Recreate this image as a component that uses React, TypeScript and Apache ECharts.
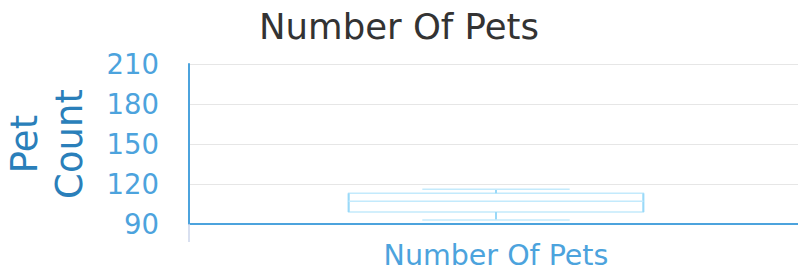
import React, { useEffect, useRef } from "react";
import * as echarts from "echarts";

const categories = ["Number Of Pets"];
// [low, q1, median, q3, high]
const boxValues = [[93, 99, 107, 113, 116]];
const yTicks = [90, 120, 150, 180, 210];

const FONT = "DejaVu Sans";

export default function App() {
  const ref = useRef<HTMLDivElement>(null);
  useEffect(() => {
    if (!ref.current) return;
    const chart = echarts.init(ref.current, null, { renderer: "svg" });
    const data = boxValues.map((v, i) => [i, ...v]);
    chart.setOption({
      animation: false,
      backgroundColor: "#ffffff",
      title: {
        text: "Number Of Pets",
        left: "center",
        top: 3,
        textStyle: { fontFamily: FONT, fontSize: 35.5, fontWeight: "normal", color: "#333333" },
      },
      grid: { left: 189, right: -5, top: 64, bottom: 47, containLabel: false, outerBoundsMode: "none" },
      xAxis: {
        type: "category",
        data: categories,
        boundaryGap: true,
        axisLine: { show: true, lineStyle: { color: "#4ca3dd", width: 2 } },
        axisTick: { show: true, length: 18, lineStyle: { color: "#ccd6eb", width: 1.5 } },
        axisLabel: { fontFamily: FONT, fontSize: 28.5, color: "#4ca3dd", margin: 17 },
        splitLine: { show: false },
      },
      yAxis: {
        type: "value",
        min: yTicks[0],
        max: yTicks[yTicks.length - 1],
        interval: 30,
        name: "Pet\nCount",
        nameLocation: "middle",
        nameRotate: 90,
        nameGap: 97,
        nameTextStyle: { fontFamily: FONT, fontSize: 37, color: "#2a7fba", lineHeight: 45 },
        axisLine: { show: true, lineStyle: { color: "#4ca3dd", width: 2 } },
        axisTick: { show: false },
        axisLabel: { fontFamily: FONT, fontSize: 27.5, color: "#4ca3dd", margin: 30 },
        splitLine: { show: true, lineStyle: { color: "#e6e6e6", width: 1 } },
      },
      series: [
        {
          type: "custom",
          data,
          encode: { x: 0, y: [1, 2, 3, 4, 5] },
          renderItem: (params: any, api: any) => {
            const idx = api.value(0);
            const low = api.coord([idx, api.value(1)]);
            const q1 = api.coord([idx, api.value(2)]);
            const med = api.coord([idx, api.value(3)]);
            const q3 = api.coord([idx, api.value(4)]);
            const high = api.coord([idx, api.value(5)]);
            const band = api.size([1, 0])[0];
            const cx = low[0];
            const bw = band * 0.48;
            const cw = band * 0.24;
            const stroke = "#9ad9f8";
            const light = "#c3eafc";
            return {
              type: "group",
              children: [
                { type: "rect", shape: { x: cx - bw / 2, y: q3[1], width: bw, height: q1[1] - q3[1] }, style: { fill: "#ffffff", stroke: light, lineWidth: 1.5 } },
                { type: "line", shape: { x1: cx - bw / 2, y1: q3[1], x2: cx - bw / 2, y2: q1[1] }, style: { stroke, lineWidth: 2 } },
                { type: "line", shape: { x1: cx + bw / 2, y1: q3[1], x2: cx + bw / 2, y2: q1[1] }, style: { stroke, lineWidth: 2 } },
                { type: "line", shape: { x1: cx - bw / 2, y1: med[1], x2: cx + bw / 2, y2: med[1] }, style: { stroke: light, lineWidth: 1.5 } },
                { type: "line", shape: { x1: cx, y1: q3[1], x2: cx, y2: high[1] }, style: { stroke, lineWidth: 2 } },
                { type: "line", shape: { x1: cx, y1: q1[1], x2: cx, y2: low[1] }, style: { stroke, lineWidth: 2 } },
                { type: "line", shape: { x1: cx - cw / 2, y1: high[1], x2: cx + cw / 2, y2: high[1] }, style: { stroke: light, lineWidth: 1.5 } },
                { type: "line", shape: { x1: cx - cw / 2, y1: low[1], x2: cx + cw / 2, y2: low[1] }, style: { stroke: light, lineWidth: 1.5 } },
              ],
            };
          },
        },
      ],
    });
    return () => chart.dispose();
  }, []);
  return <div ref={ref} style={{ width: 798, height: 271, position: "absolute", left: 0, top: 0 }} />;
}
